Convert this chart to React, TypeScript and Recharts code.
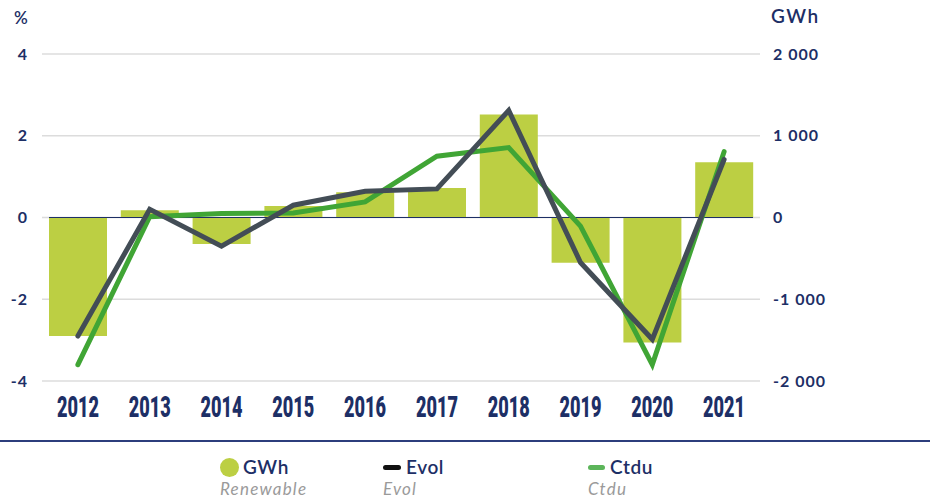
import React from 'react'
import {
  ComposedChart,
  Bar,
  Line,
  XAxis,
  YAxis,
  CartesianGrid,
  ReferenceLine,
} from 'recharts'

const years = ['2012', '2013', '2014', '2015', '2016', '2017', '2018', '2019', '2020', '2021']
const renewableGwh = [-1450, 90, -325, 140, 310, 360, 1260, -555, -1530, 675]
const evolPct = [-2.9, 0.2, -0.7, 0.3, 0.64, 0.7, 2.62, -1.1, -2.98, 1.42]
const ctduPct = [-3.6, 0.02, 0.1, 0.11, 0.38, 1.5, 1.71, -0.21, -3.6, 1.61]
const pctTicks = [-4, -2, 0, 2, 4]
const gwhTicks = [-2000, -1000, 0, 1000, 2000]

const NAVY = '#1d2f66'
const BAR = '#bccf43'
const DARK = '#434d56'
const GREEN = '#40a535'
const FONT = 'Lato, "Open Sans", sans-serif'

const data = years.map((year, i) => ({
  year,
  renewable: renewableGwh[i],
  evol: evolPct[i],
  ctdu: ctduPct[i],
}))

const fmtGwh = (v: number) => {
  if (v === 0) return '0'
  const s = Math.abs(v).toString().replace(/\B(?=(\d{3})+(?!\d))/g, ' ')
  return (v < 0 ? '-' : '') + s
}

// condensed heavy year labels, squeezed to the width seen in the picture
const YearTick = (props: any) => {
  const { x, y, payload } = props
  return (
    <text
      x={x}
      y={y + 28}
      textAnchor="middle"
      textLength={42}
      lengthAdjust="spacingAndGlyphs"
      fill={NAVY}
      fontFamily='Roboto, sans-serif'
      fontWeight={900}
      fontSize={29}
    >
      {payload.value}
    </text>
  )
}

const ZeroLine = (props: any) => {
  const { x1, x2, y1, y2 } = props
  return <line x1={x1 + 7} x2={x2 - 7} y1={y1} y2={y2} stroke={NAVY} strokeWidth={1.2} />
}

const legendTitle = { color: NAVY, fontSize: 19, fontWeight: 600, letterSpacing: 0.6, lineHeight: '22px' }
const legendSub = {
  position: 'absolute' as const,
  left: 0,
  top: 23,
  color: '#9a9a9a',
  fontSize: 17,
  fontStyle: 'italic',
  letterSpacing: 1.2,
  lineHeight: '19px',
  whiteSpace: 'nowrap' as const,
}

const LegendItem = ({ left, marker, title, sub }: any) => (
  <div style={{ position: 'absolute', left, top: 456, fontFamily: FONT }}>
    <div style={{ display: 'flex', alignItems: 'center', height: 22 }}>
      {marker}
      <span style={{ marginLeft: 4, ...legendTitle }}>{title}</span>
    </div>
    <div style={legendSub}>{sub}</div>
  </div>
)

export default function App() {
  const tickStyle = { fill: NAVY, fontSize: 16, fontWeight: 700, fontFamily: FONT, letterSpacing: 1 }
  return (
    <div style={{ position: 'absolute', left: 0, top: 0, width: 930, height: 499, background: '#fff' }}>
      <ComposedChart
        width={930}
        height={440}
        data={data}
        margin={{ top: 54, right: 0, bottom: 9, left: 0 }}
      >
        <CartesianGrid vertical={false} stroke="#dcdcdc" strokeWidth={1.5} yAxisId="pct" />
        <XAxis dataKey="year" tick={<YearTick />} tickLine={false} axisLine={false} height={50} />
        <YAxis
          yAxisId="pct"
          orientation="left"
          domain={[-4, 4]}
          ticks={pctTicks}
          width={42}
          tickLine={false}
          axisLine={false}
          tickSize={0}
          tickMargin={14}
          tick={tickStyle}
        />
        <YAxis
          yAxisId="gwh"
          orientation="right"
          domain={[-2000, 2000]}
          ticks={gwhTicks}
          width={170}
          tickLine={false}
          axisLine={false}
          tickSize={0}
          tickMargin={13}
          tickFormatter={fmtGwh}
          tick={{ ...tickStyle, textAnchor: 'start' }}
        />
        <Bar yAxisId="gwh" dataKey="renewable" fill={BAR} barSize={58} isAnimationActive={false} />
        <ReferenceLine yAxisId="pct" y={0} shape={<ZeroLine />} />
        <Line
          yAxisId="pct"
          type="linear"
          dataKey="ctdu"
          stroke={GREEN}
          strokeWidth={5}
          strokeLinecap="round"
          dot={false}
          activeDot={false}
          isAnimationActive={false}
        />
        <Line
          yAxisId="pct"
          type="linear"
          dataKey="evol"
          stroke={DARK}
          strokeWidth={5}
          strokeLinecap="round"
          dot={false}
          activeDot={false}
          isAnimationActive={false}
        />
      </ComposedChart>

      <div style={{ position: 'absolute', left: 14, top: 7, color: NAVY, fontFamily: FONT, fontSize: 17, fontWeight: 600 }}>%</div>
      <div style={{ position: 'absolute', left: 771, top: 4, color: NAVY, fontFamily: FONT, fontSize: 19, fontWeight: 600, letterSpacing: 1.5 }}>GWh</div>

      <div style={{ position: 'absolute', left: 0, top: 440, width: 930, height: 1.5, background: '#2c3e7c' }} />

      <LegendItem
        left={220}
        title="GWh"
        sub="Renewable"
        marker={<span style={{ width: 19, height: 19, borderRadius: '50%', background: BAR, display: 'inline-block' }} />}
      />
      <LegendItem
        left={383}
        title="Evol"
        sub="Evol"
        marker={<span style={{ width: 18, height: 5, borderRadius: 3, background: '#111', display: 'inline-block', marginRight: 1 }} />}
      />
      <LegendItem
        left={588}
        title="Ctdu"
        sub="Ctdu"
        marker={<span style={{ width: 17, height: 5, borderRadius: 3, background: '#5cb55a', display: 'inline-block', marginRight: 1 }} />}
      />
    </div>
  )
}
